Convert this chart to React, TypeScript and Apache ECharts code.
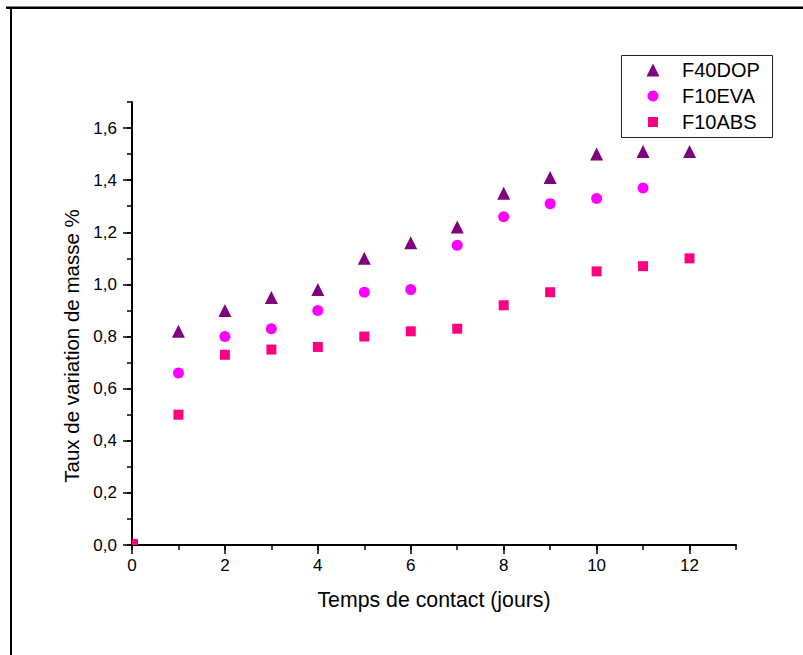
import React, { useEffect, useRef } from "react";
import * as echarts from "echarts";

// ---- data ----
const seriesNames = ["F40DOP", "F10EVA", "F10ABS"];
const daysDOP = [1, 2, 3, 4, 5, 6, 7, 8, 9, 10, 11, 12];
const valuesDOP = [0.82, 0.9, 0.95, 0.98, 1.1, 1.16, 1.22, 1.35, 1.41, 1.5, 1.51, 1.51];
const daysEVA = [1, 2, 3, 4, 5, 6, 7, 8, 9, 10, 11];
const valuesEVA = [0.66, 0.8, 0.83, 0.9, 0.97, 0.98, 1.15, 1.26, 1.31, 1.33, 1.37];
const daysABS = [0, 1, 2, 3, 4, 5, 6, 7, 8, 9, 10, 11, 12];
const valuesABS = [0, 0.5, 0.73, 0.75, 0.76, 0.8, 0.82, 0.83, 0.92, 0.97, 1.05, 1.07, 1.1];

const xMinorTicks = [0, 1, 2, 3, 4, 5, 6, 7, 8, 9, 10, 11, 12, 13];
const xMajorTicks = [0, 2, 4, 6, 8, 10, 12];
const yMinorTicks = [0, 0.1, 0.2, 0.3, 0.4, 0.5, 0.6, 0.7, 0.8, 0.9, 1.0, 1.1, 1.2, 1.3, 1.4, 1.5, 1.6, 1.7];
const yMajorTicks = [0, 0.2, 0.4, 0.6, 0.8, 1.0, 1.2, 1.4, 1.6];

const xTitle = "Temps de contact (jours)";
const yTitle = "Taux de variation de masse %";

const FONT = "'Liberation Sans', Arial, Helvetica, sans-serif";
const colors = ["#800080", "#FF00FF", "#FF0080"];
const symbols = ["triangle", "circle", "rect"];
const sizes = [13, 11, 10];

function pairs(xs: number[], ys: number[]) {
  return xs.map((x, i) => [x, ys[i]]);
}

export default function App() {
  const ref = useRef<HTMLDivElement>(null);
  useEffect(() => {
    if (!ref.current) return;
    const chart = echarts.init(ref.current, null, { renderer: "svg" });

    const gridLeft = 132;
    const gridTop = 102;
    const gridW = 604;
    const gridH = 443;

    const absData = pairs(daysABS, valuesABS).map((p) =>
      p[0] === 0 && p[1] === 0
        ? { value: p, symbolSize: 6, symbolOffset: [3, -3] }
        : { value: p }
    );

    const baseAxis = {
      type: "value",
      min: 0,
      splitLine: { show: false },
    };

    const legendIconCenter = 653;
    const legendTextStart = 682;
    const legendRowTops = [60, 86, 112];

    const option: any = {
      animation: false,
      backgroundColor: "#ffffff",
      grid: { left: gridLeft, top: gridTop, width: gridW, height: gridH },
      xAxis: [
        {
          ...baseAxis,
          max: 13,
          position: "bottom",
          axisLine: { show: true, onZero: false, lineStyle: { color: "#000", width: 2 } },
          axisTick: { show: true, inside: false, length: 5, lineStyle: { color: "#000", width: 1.5 }, customValues: xMinorTicks },
          axisLabel: {
            customValues: xMajorTicks,
            margin: 12,
            color: "#000",
            fontSize: 17,
            fontFamily: FONT,
            formatter: (v: number) => String(v),
          },
          name: xTitle,
          nameLocation: "middle",
          nameGap: 44,
          nameTextStyle: { color: "#000", fontSize: 21.3, fontFamily: FONT },
        },
        {
          ...baseAxis,
          max: 13,
          position: "bottom",
          axisLine: { show: false, onZero: false },
          axisTick: { show: true, inside: false, length: 9, lineStyle: { color: "#000", width: 1.5 }, customValues: xMajorTicks },
          axisLabel: { show: false },
        },
      ],
      yAxis: [
        {
          ...baseAxis,
          max: 1.7,
          position: "left",
          axisLine: { show: true, onZero: false, lineStyle: { color: "#000", width: 2 } },
          axisTick: { show: true, inside: false, length: 5, lineStyle: { color: "#000", width: 1.5 }, customValues: yMinorTicks },
          axisLabel: {
            customValues: yMajorTicks,
            margin: 15,
            color: "#000",
            fontSize: 17,
            fontFamily: FONT,
            formatter: (v: number) => v.toFixed(1).replace(".", ","),
          },
        },
        {
          ...baseAxis,
          max: 1.7,
          position: "left",
          axisLine: { show: false, onZero: false },
          axisTick: { show: true, inside: false, length: 9, lineStyle: { color: "#000", width: 1.5 }, customValues: yMajorTicks },
          axisLabel: { show: false },
        },
      ],
      legend: seriesNames.map((name, i) => {
        const s = sizes[i];
        const left = legendIconCenter - s / 2;
        const pad = legendTextStart - (left + s + 5);
        return {
          data: [{ name, icon: symbols[i] }],
          orient: "vertical",
          left,
          top: legendRowTops[i],
          padding: 0,
          itemWidth: s,
          itemHeight: s,
          selectedMode: false,
          symbolKeepAspect: true,
          textStyle: { color: "#000", fontSize: 20, fontFamily: FONT, padding: [0, 0, 0, pad] },
        };
      }),
      graphic: [
        {
          type: "rect",
          shape: { x: 621.5, y: 55.5, width: 151, height: 82 },
          style: { fill: "none", stroke: "#222", lineWidth: 1 },
          z: -1,
        },
        {
          type: "line",
          shape: { x1: 6, y1: 7.75, x2: 803, y2: 7.75 },
          style: { stroke: "#000", lineWidth: 2.5 },
        },
        {
          type: "line",
          shape: { x1: 11, y1: 7, x2: 11, y2: 655 },
          style: { stroke: "#000", lineWidth: 2 },
        },
        {
          type: "text",
          x: 71,
          y: 346,
          rotation: Math.PI / 2,
          style: {
            text: yTitle,
            fill: "#000",
            fontSize: 20.5,
            fontFamily: FONT,
            align: "center",
            verticalAlign: "middle",
          },
        },
      ],
      series: [
        {
          name: seriesNames[0],
          type: "scatter",
          xAxisIndex: 0,
          yAxisIndex: 0,
          symbol: symbols[0],
          symbolSize: sizes[0],
          itemStyle: { color: colors[0], opacity: 1 },
          data: pairs(daysDOP, valuesDOP),
        },
        {
          name: seriesNames[1],
          type: "scatter",
          xAxisIndex: 0,
          yAxisIndex: 0,
          symbol: symbols[1],
          symbolSize: sizes[1],
          itemStyle: { color: colors[1], opacity: 1 },
          data: pairs(daysEVA, valuesEVA),
        },
        {
          name: seriesNames[2],
          type: "scatter",
          xAxisIndex: 0,
          yAxisIndex: 0,
          symbol: symbols[2],
          symbolSize: sizes[2],
          itemStyle: { color: colors[2], opacity: 1 },
          data: absData,
        },
      ],
    };

    chart.setOption(option);
    return () => chart.dispose();
  }, []);

  return (
    <div
      ref={ref}
      style={{ position: "absolute", left: 0, top: 0, width: 803, height: 655, background: "#fff" }}
    />
  );
}
